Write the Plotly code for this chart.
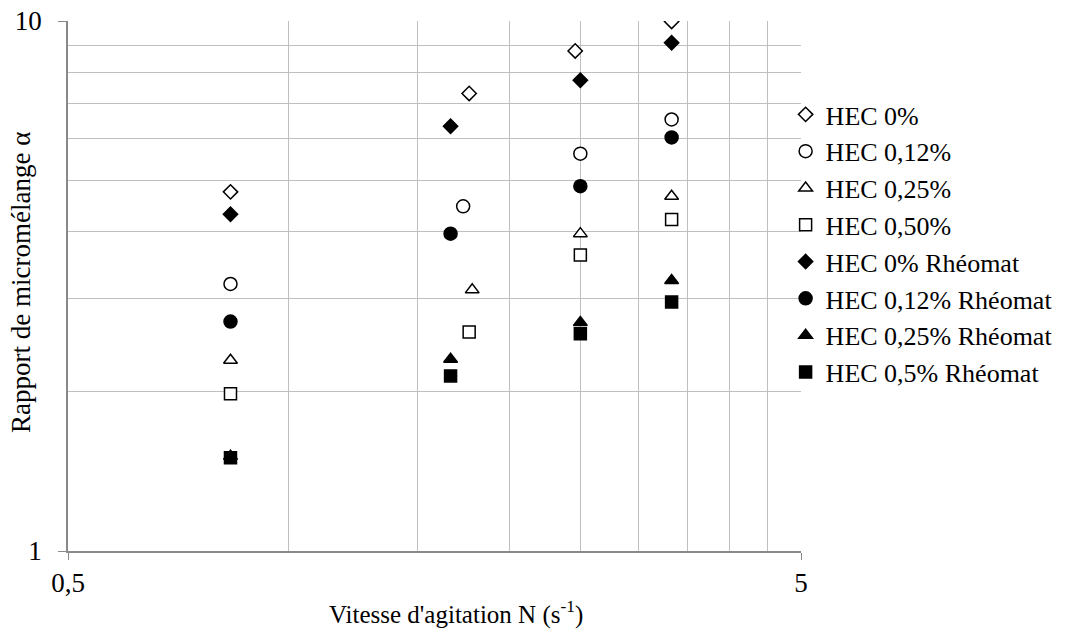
import plotly.graph_objects as go

# vitesse d'agitation N (s-1) et rapport de micromelange alpha, par serie
noms = ["HEC 0%", "HEC 0,12%", "HEC 0,25%", "HEC 0,50%",
        "HEC 0% Rhéomat", "HEC 0,12% Rhéomat", "HEC 0,25% Rhéomat", "HEC 0,5% Rhéomat"]

x_hec0 = [0.833, 1.763, 2.46, 3.33]
y_hec0 = [4.76, 7.30, 8.78, 9.98]
x_hec012 = [0.833, 1.73, 2.5, 3.33]
y_hec012 = [3.19, 4.47, 5.62, 6.52]
x_hec025 = [0.833, 1.78, 2.5, 3.33]
y_hec025 = [2.29, 3.11, 3.97, 4.67]
x_hec050 = [0.833, 1.763, 2.5, 3.33]
y_hec050 = [1.98, 2.59, 3.62, 4.22]

x_rheo = [0.833, 1.663, 2.5, 3.33]
y_hec0_rheo = [4.32, 6.33, 7.73, 9.10]
y_hec012_rheo = [2.71, 3.97, 4.88, 6.03]
y_hec025_rheo = [1.51, 2.30, 2.70, 3.24]
y_hec05_rheo = [1.50, 2.14, 2.57, 2.95]

x_grille = [0.5, 1, 1.5, 2, 2.5, 3, 3.5, 4, 4.5, 5]
y_grille = [1, 2, 3, 4, 5, 6, 7, 8, 9, 10]
x_ticks = [0.5, 5]
x_labels = ["0,5", "5"]
y_ticks = [1, 10]
y_labels = ["1", "10"]

series = [
    (x_hec0, y_hec0, "diamond", "white", 11),
    (x_hec012, y_hec012, "circle", "white", 13),
    (x_hec025, y_hec025, "triangle-up", "white", 12),
    (x_hec050, y_hec050, "square", "white", 12),
    (x_rheo, y_hec0_rheo, "diamond", "black", 11),
    (x_rheo, y_hec012_rheo, "circle", "black", 13),
    (x_rheo, y_hec025_rheo, "triangle-up", "black", 12),
    (x_rheo, y_hec05_rheo, "square", "black", 12),
]

police = dict(family="Liberation Serif", size=27, color="black")
police_leg = dict(family="Liberation Serif", size=26, color="black")
police_titre = dict(family="Liberation Serif", size=25, color="black")
grille = "#bfbfbf"
axe = "#898989"

fig = go.Figure()
for nom, (xs, ys, sym, fill, taille) in zip(noms, series):
    fig.add_trace(go.Scatter(x=xs, y=ys, mode="markers", name=nom,
                             marker=dict(symbol=sym, size=taille, color=fill,
                                         line=dict(color="black", width=1.5))))

fig.update_xaxes(type="log", range=[-0.30103, 0.69897], automargin=False,
                 tickvals=x_ticks, ticktext=x_labels, ticklabeloverflow="allow",
                 ticks="outside", ticklen=7, tickcolor=axe,
                 showline=True, linecolor=axe, linewidth=1.5,
                 showgrid=True, gridcolor=grille, gridwidth=1.3,
                 minor=dict(tickmode="array", tickvals=x_grille, showgrid=True,
                            gridcolor=grille, gridwidth=1.3, ticks=""),
                 zeroline=False, tickfont=police)
fig.update_yaxes(type="log", range=[0, 1], automargin=False,
                 tickvals=y_ticks, ticktext=y_labels, ticklabeloverflow="allow",
                 ticks="outside", ticklen=8, tickcolor=axe,
                 ticklabelstandoff=11,
                 showline=True, linecolor=axe, linewidth=1.5,
                 showgrid=True, gridcolor=grille, gridwidth=1.3,
                 minor=dict(tickmode="array", tickvals=y_grille, showgrid=True,
                            gridcolor=grille, gridwidth=1.3, ticks=""),
                 zeroline=False, tickfont=police)

# titres d'axes
fig.add_annotation(text="Vitesse d'agitation N (s<sup>-1</sup>)", xref="paper", yref="paper",
                   x=0.529, y=-0.1157, xanchor="center", yanchor="middle",
                   showarrow=False, font=police_titre)
fig.add_annotation(text="Rapport de micromélange α", xref="paper", yref="paper",
                   x=-0.0632, y=0.507, xanchor="center", yanchor="middle", textangle=-90,
                   showarrow=False, font=dict(police_titre, size=27))

fig.update_layout(
    width=1072, height=637,
    margin=dict(l=68, r=271, t=21, b=86),
    paper_bgcolor="white", plot_bgcolor="white",
    font=police,
    showlegend=True,
    legend=dict(x=0.979, y=0.868, xanchor="left", yanchor="top",
                font=police_leg, bgcolor="rgba(0,0,0,0)", tracegroupgap=0),
)

# pas de marge autour du graphique dans la page, pas de barre d'outils
fig.write_html("out.html", config={"displayModeBar": False},
               post_script="document.body.style.margin='0';")
